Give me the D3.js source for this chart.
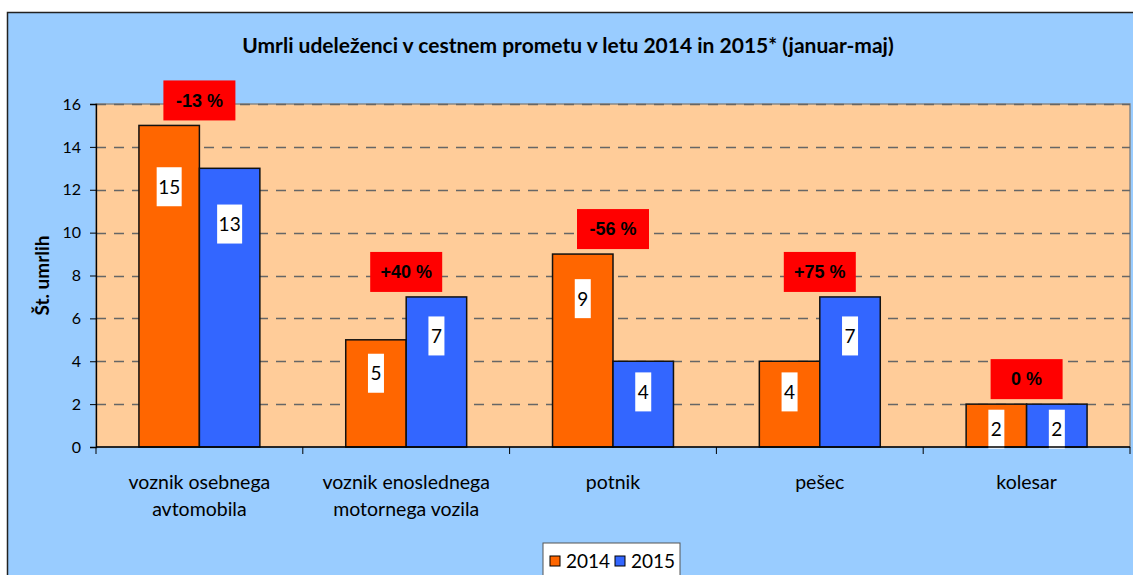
<!DOCTYPE html>
<html>
<head>
<meta charset="utf-8">
<script src="https://cdn.jsdelivr.net/npm/d3@7"></script>
<style>
  body { margin: 0; background: #fff; }
  text { font-family: Lato, "Open Sans", sans-serif; }
</style>
</head>
<body>
<div id="chart"></div>
<script>
// data
var categories = [["voznik osebnega", "avtomobila"], ["voznik enoslednega", "motornega vozila"], ["potnik"], ["pešec"], ["kolesar"]];
var years = ["2014", "2015"];
var values2014 = [15, 5, 9, 4, 2];
var values2015 = [13, 7, 4, 7, 2];
var changes = ["-13 %", "+40 %", "-56 %", "+75 %", "0 %"];
var yTicks = [0, 2, 4, 6, 8, 10, 12, 14, 16];

var width = 1133, height = 575;
var plot = {left: 96, top: 104, right: 1130, bottom: 447};
var colors = {"2014": "#FF6600", "2015": "#3366FF"};

var svg = d3.select("#chart").append("svg")
    .attr("width", width)
    .attr("height", height);

// outer chart area
svg.append("rect")
    .attr("x", 7.5).attr("y", 12.5)
    .attr("width", width + 10).attr("height", height)
    .attr("fill", "#99CCFF")
    .attr("stroke", "#222").attr("stroke-width", 1.5);

var x = d3.scaleBand()
    .domain(d3.range(categories.length))
    .range([plot.left, plot.right]);

var xInner = d3.scaleBand()
    .domain(years)
    .range([0, x.bandwidth()])
    .paddingInner(0)
    .paddingOuter(0.71);

var y = d3.scaleLinear()
    .domain([0, 16])
    .range([plot.bottom, plot.top]);

// plot area
svg.append("rect")
    .attr("x", plot.left).attr("y", plot.top)
    .attr("width", plot.right - plot.left).attr("height", plot.bottom - plot.top)
    .attr("fill", "#FFCC99")
    .attr("stroke", "#888").attr("stroke-width", 1.5);

// gridlines
svg.append("g").selectAll("line")
    .data(yTicks.filter(function(d) { return d > 0; }))
    .enter().append("line")
    .attr("x1", plot.left).attr("x2", plot.right)
    .attr("y1", function(d) { return Math.round(y(d)) + 0.5; })
    .attr("y2", function(d) { return Math.round(y(d)) + 0.5; })
    .attr("stroke", "#666")
    .attr("stroke-width", 1.3)
    .attr("stroke-dasharray", "10,8");

// bars
var series = years.map(function(yr, k) {
    var vals = k === 0 ? values2014 : values2015;
    return vals.map(function(v, i) { return {year: yr, i: i, value: v}; });
});
var flat = d3.merge(series);

svg.append("g").selectAll("rect")
    .data(flat)
    .enter().append("rect")
    .attr("x", function(d) { return x(d.i) + xInner(d.year); })
    .attr("y", function(d) { return y(d.value); })
    .attr("width", xInner.bandwidth())
    .attr("height", function(d) { return y(0) - y(d.value); })
    .attr("fill", function(d) { return colors[d.year]; })
    .attr("stroke", "#111")
    .attr("stroke-width", 1.5);

// value labels in white boxes
var lab = svg.append("g").selectAll("g")
    .data(flat)
    .enter().append("g")
    .attr("transform", function(d) {
        var h = y(0) - y(d.value);
        var cx = x(d.i) + xInner(d.year) + xInner.bandwidth() / 2;
        var cy = y(d.value) + 20 + 0.13 * h;
        return "translate(" + cx + "," + cy + ")";
    });

lab.append("rect")
    .attr("x", function(d) { return d.value >= 10 ? -12.5 : -8; })
    .attr("y", -20)
    .attr("width", function(d) { return d.value >= 10 ? 25 : 16; })
    .attr("height", 39)
    .attr("fill", "#fff");

lab.append("text")
    .attr("text-anchor", "middle")
    .attr("dy", "0.35em")
    .style("font-size", "19px")
    .attr("fill", "#000")
    .text(function(d) { return d.value; });

// change boxes
var chg = svg.append("g").selectAll("g")
    .data(changes)
    .enter().append("g")
    .attr("transform", function(d, i) {
        var top = y(Math.max(values2014[i], values2015[i]));
        return "translate(" + (x(i) + x.bandwidth() / 2) + "," + (top - 25) + ")";
    });

chg.append("rect")
    .attr("x", -36).attr("y", -20)
    .attr("width", 72).attr("height", 40)
    .attr("fill", "#FF0000");

chg.append("text")
    .attr("text-anchor", "middle")
    .attr("dy", "0.35em")
    .style("font-family", "Liberation Sans, Arial, sans-serif")
    .style("font-weight", "bold")
    .style("font-size", "18px")
    .attr("fill", "#000")
    .text(function(d) { return d; });

// y axis
var yAxis = svg.append("g")
    .attr("transform", "translate(" + plot.left + ",0)")
    .call(d3.axisLeft(y).tickValues(yTicks).tickSize(6).tickPadding(9));
yAxis.select(".domain").attr("stroke", "#000").attr("stroke-width", 1.3);
yAxis.selectAll(".tick line").attr("stroke", "#000");
yAxis.selectAll(".tick text")
    .style("font-family", "Lato, sans-serif")
    .style("font-size", "16px")
    .attr("fill", "#000");

// x axis
svg.append("line")
    .attr("x1", plot.left).attr("x2", plot.right)
    .attr("y1", plot.bottom).attr("y2", plot.bottom)
    .attr("stroke", "#000").attr("stroke-width", 1.5);

svg.append("g").selectAll("line")
    .data(d3.range(categories.length + 1))
    .enter().append("line")
    .attr("x1", function(d) { return d < categories.length ? x(d) : plot.right; })
    .attr("x2", function(d) { return d < categories.length ? x(d) : plot.right; })
    .attr("y1", plot.bottom).attr("y2", plot.bottom + 7)
    .attr("stroke", "#000");

var xl = svg.append("g").selectAll("text")
    .data(categories)
    .enter().append("text")
    .attr("text-anchor", "middle")
    .attr("x", function(d, i) { return x(i) + x.bandwidth() / 2; })
    .attr("y", 489)
    .style("font-size", "19.5px")
    .attr("fill", "#000");

xl.selectAll("tspan")
    .data(function(d) { return d; })
    .enter().append("tspan")
    .attr("x", function() { return d3.select(this.parentNode).attr("x"); })
    .attr("dy", function(d, j) { return j === 0 ? 0 : 27; })
    .text(function(d) { return d; });

// title
svg.append("text")
    .attr("x", 568).attr("y", 53)
    .attr("text-anchor", "middle")
    .style("font-weight", "bold")
    .style("font-size", "21px")
    .attr("fill", "#000")
    .text("Umrli udeleženci v cestnem prometu v letu 2014 in 2015* (januar-maj)");

// y axis title
svg.append("text")
    .attr("transform", "translate(49," + ((plot.top + plot.bottom) / 2) + ") rotate(-90)")
    .attr("text-anchor", "middle")
    .style("font-weight", "bold")
    .style("font-size", "19px")
    .attr("fill", "#000")
    .text("Št. umrlih");

// legend
var legend = svg.append("g").attr("transform", "translate(543,543)");
legend.append("rect")
    .attr("width", 137).attr("height", 40)
    .attr("fill", "#fff")
    .attr("stroke", "#555");

var li = legend.selectAll("g.item")
    .data(years)
    .enter().append("g")
    .attr("class", "item")
    .attr("transform", function(d, i) { return "translate(" + (7 + i * 65) + ",0)"; });

li.append("rect")
    .attr("y", 13).attr("width", 10).attr("height", 10)
    .attr("fill", function(d) { return colors[d]; })
    .attr("stroke", "#000");

li.append("text")
    .attr("x", 16).attr("y", 25)
    .style("font-size", "19px")
    .attr("fill", "#000")
    .text(function(d) { return d; });
</script>
</body>
</html>
